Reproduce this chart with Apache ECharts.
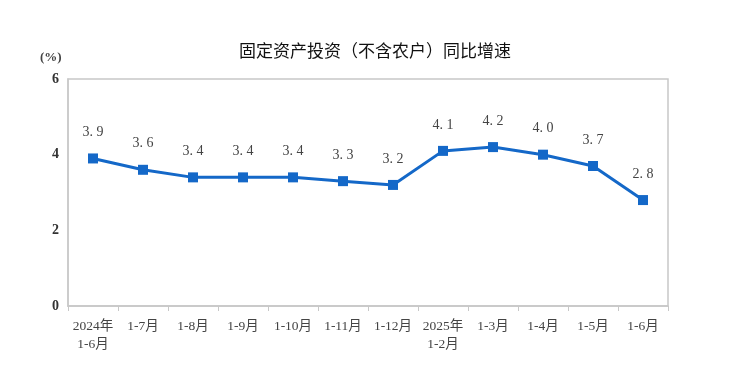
<!DOCTYPE html>
<html><head><meta charset="utf-8">
<script src="https://cdn.jsdelivr.net/npm/echarts@6/dist/echarts.min.js"></script>
<style>html,body{margin:0;padding:0;background:#fff}#c{width:745px;height:365px}</style>
</head><body><div id="c"></div>
<script>
const categories = ['2024年\n1-6月','1-7月','1-8月','1-9月','1-10月','1-11月','1-12月','2025年\n1-2月','1-3月','1-4月','1-5月','1-6月'];
const values = [3.9,3.6,3.4,3.4,3.4,3.3,3.2,4.1,4.2,4.0,3.7,2.8];
const yTicks = [0,2,4,6];
const title = '固定资产投资（不含农户）同比增速';
const unit = '(%)';
const serif = '"Liberation Serif","DejaVu Serif","Noto Sans CJK SC",serif';
const chart = echarts.init(document.getElementById('c'), null, {renderer:'canvas'});
chart.setOption({
  animation:false,
  title:{text:title,left:370,top:37,textAlign:'center',textStyle:{fontSize:17,fontWeight:'normal',color:'#111',fontFamily:'"Noto Sans CJK SC",sans-serif'}},
  graphic:[{type:'text',left:40,top:51,style:{text:unit,font:'bold 13px '+serif,fill:'#444'}},
    {type:'rect',shape:{x:68,y:79,width:600,height:227},style:{fill:'none',stroke:'#c8c8c8',lineWidth:1.5},silent:true,z:0}],
  grid:{left:68,right:77,top:79,bottom:59},
  xAxis:{type:'category',data:categories,boundaryGap:true,
    axisLine:{lineStyle:{color:'#c8c8c8',width:1.5}},
    axisTick:{show:true,alignWithLabel:false,length:5,lineStyle:{color:'#c8c8c8'}},
    axisLabel:{interval:0,margin:11,color:'#444',fontSize:13.5,lineHeight:18,fontFamily:serif}},
  yAxis:{type:'value',min:0,max:6,interval:2,
    axisLine:{show:true,lineStyle:{color:'#c8c8c8',width:1.5}},
    axisTick:{show:false},splitLine:{show:false},
    axisLabel:{margin:9,color:'#333',fontSize:14,fontWeight:'bold',fontFamily:serif,
      formatter:v=>yTicks.includes(v)?String(v):''}},
  series:[{type:'line',data:values,symbol:'rect',symbolSize:10,
    lineStyle:{color:'#1468c8',width:3},itemStyle:{color:'#1468c8'},
    label:{show:true,position:'top',distance:14,color:'#444',fontSize:14,fontFamily:serif,
      formatter:p=>p.value.toFixed(1).replace('.', '. ')}}]
});
</script></body></html>
